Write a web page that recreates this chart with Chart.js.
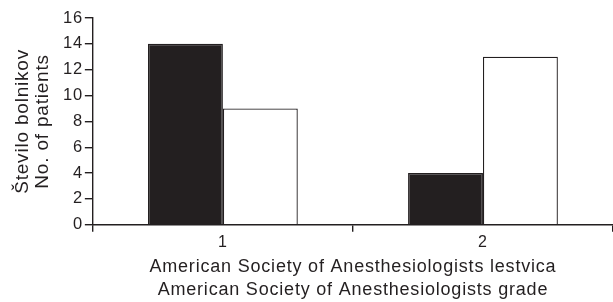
<!DOCTYPE html>
<html>
<head>
<meta charset="utf-8">
<script src="https://cdn.jsdelivr.net/npm/chart.js@4/dist/chart.umd.min.js"></script>
<style>
  html, body { margin: 0; padding: 0; background: #fff; }
</style>
</head>
<body>
<canvas id="barChart" width="613" height="302"></canvas>
<script>
    var categories = ["1", "2"];
    var seriesBlack = [14, 4];
    var seriesWhite = [9, 13];
    var yTitle = ["Število bolnikov", "No. of patients"];
    var xTitle = ["American Society of Anesthesiologists lestvica", "American Society of Anesthesiologists grade"];

    var ink = "#231f20";
    Chart.defaults.font.family = "'Liberation Sans', Arial, Helvetica, sans-serif";
    Chart.defaults.color = ink;

    // the printed figure uses a slightly wider Helvetica, so open the letters up a bit
    var spacing = {
        id: 'spacing',
        beforeUpdate: function (chart) { chart.ctx.letterSpacing = "0.8px"; },
        beforeDraw: function (chart) { chart.ctx.letterSpacing = "0.8px"; }
    };

    var barData = {
        labels: categories,
        datasets: [
            {
                label: "A",
                backgroundColor: ink,
                borderColor: ink,
                borderWidth: 1.3,
                data: seriesBlack
            },
            {
                label: "B",
                backgroundColor: "#ffffff",
                borderColor: ink,
                borderWidth: 1.3,
                data: seriesWhite
            }
        ]
    };

    var barOptions = {
        responsive: false,
        animation: false,
        barPercentage: 1,
        categoryPercentage: 0.576,
        layout: { padding: { top: 18, right: 0, left: 13, bottom: 1 } },
        plugins: {
            legend: { display: false },
            tooltip: { enabled: false }
        },
        scales: {
            x: {
                grid: { drawOnChartArea: false, drawTicks: true, tickLength: 7, color: ink, lineWidth: 1.4, offset: true },
                border: { color: ink, width: 1.4 },
                ticks: { font: { size: 16 }, padding: 1, color: ink },
                title: { display: true, text: xTitle, font: { size: 18, lineHeight: 1.25 }, padding: { top: 3, bottom: 0 }, color: ink }
            },
            y: {
                min: 0,
                max: 16,
                grid: { drawOnChartArea: false, drawTicks: true, tickLength: 8, color: ink, lineWidth: 1.4 },
                border: { color: ink, width: 1.4 },
                ticks: { stepSize: 2, font: { size: 16.5 }, padding: 2, color: ink },
                title: { display: true, text: yTitle, font: { size: 19, lineHeight: 1.05 }, padding: { top: 0, bottom: 8 }, color: ink }
            }
        }
    };

    var ctx = document.getElementById("barChart").getContext("2d");
    new Chart(ctx, {type: 'bar', data: barData, options: barOptions, plugins: [spacing]});
</script>
</body>
</html>
